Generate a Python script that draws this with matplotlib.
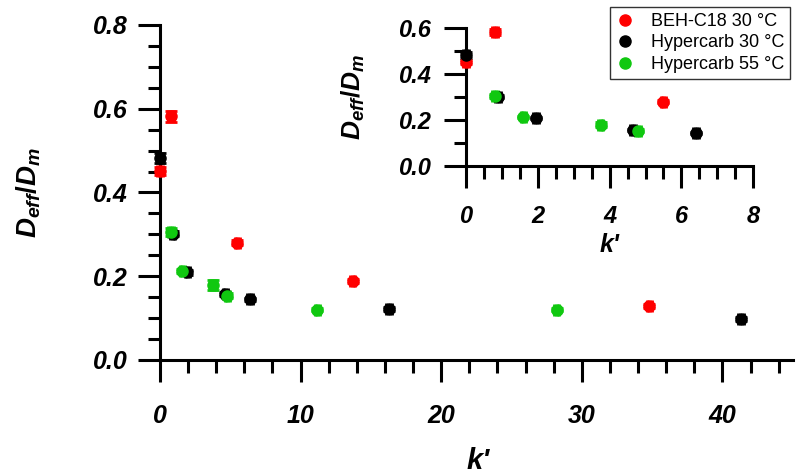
import matplotlib
matplotlib.use("Agg")
import matplotlib.pyplot as plt
from matplotlib.lines import Line2D
from matplotlib.ticker import MultipleLocator

plt.rcParams['font.family'] = ['Liberation Sans', 'DejaVu Sans']
plt.rcParams['mathtext.fontset'] = 'custom'
plt.rcParams['mathtext.it'] = 'Liberation Sans:bold:italic'
plt.rcParams['mathtext.rm'] = 'Liberation Sans:bold'
plt.rcParams['mathtext.bf'] = 'Liberation Sans:bold'

# datos
beh_k = [0.0, 0.8, 5.5, 13.7, 34.8]
beh_d = [0.452, 0.582, 0.280, 0.188, 0.129]
beh_err = [0.010, 0.013, 0.006, 0.005, 0.004]

hc30_k = [0.0, 0.9, 1.95, 4.65, 6.4, 16.3, 41.3]
hc30_d = [0.482, 0.302, 0.209, 0.158, 0.145, 0.122, 0.098]
hc30_err = [0.012, 0.006, 0.005, 0.005, 0.004, 0.004, 0.004]

hc55_k = [0.8, 1.6, 3.75, 4.8, 11.2, 28.2]
hc55_d = [0.305, 0.213, 0.179, 0.154, 0.120, 0.120]
hc55_err = [0.010, 0.005, 0.011, 0.006, 0.004, 0.004]

labels = ['BEH-C18 30 °C', 'Hypercarb 30 °C', 'Hypercarb 55 °C']
colores = ['#ff0000', '#000000', '#10c810']
series = [(beh_k, beh_d, beh_err), (hc30_k, hc30_d, hc30_err), (hc55_k, hc55_d, hc55_err)]

ylab = r'$D_{eff}/D_m$'
xlab = "k'"
fp = dict(fontweight='bold', fontstyle='italic')

fig = plt.figure(figsize=(8, 4.76), dpi=100)


def estilo(ax, fs, lw, pad_x, pad_y):
    ax.spines['top'].set_visible(False)
    ax.spines['right'].set_visible(False)
    ax.spines['left'].set_linewidth(lw)
    ax.spines['bottom'].set_linewidth(lw)
    ax.tick_params(which='major', direction='out', length=16, width=lw, labelsize=fs)
    ax.tick_params(which='minor', direction='out', length=9, width=lw)
    ax.tick_params(axis='x', which='major', pad=pad_x)
    ax.tick_params(axis='y', which='major', pad=pad_y)
    for t in ax.get_xticklabels() + ax.get_yticklabels():
        t.set_fontweight('bold')
        t.set_fontstyle('italic')


def puntos(ax, xerr_u):
    for (k, d, e), c in zip(series, colores):
        ax.errorbar(k, d, yerr=e, xerr=xerr_u, fmt='o', color=c, ms=8, mec=c,
                    elinewidth=2, capsize=4, capthick=2, clip_on=False, zorder=3)


# grafica principal
ax = fig.add_axes([0.2, 0.2437, 0.791, 0.7038])
puntos(ax, 0.2)
ax.set_xlim(0, 45)
ax.set_ylim(0, 0.8)
ax.xaxis.set_major_locator(MultipleLocator(10))
ax.xaxis.set_minor_locator(MultipleLocator(2))
ax.set_yticks([0, 0.2, 0.4, 0.6, 0.8])
ax.set_yticklabels(['0.0', '0.2', '0.4', '0.6', '0.8'])
ax.yaxis.set_minor_locator(MultipleLocator(0.05))
estilo(ax, 18, 2.2, 16, 7)
ax.set_xlabel(xlab, fontsize=21, va='center', **fp)
ax.set_ylabel(ylab, fontsize=20, va='center')
ax.xaxis.set_label_coords(0.502, -0.30)
ax.yaxis.set_label_coords(-0.208, 0.5)

# grafica insertada
ax2 = fig.add_axes([0.5825, 0.651, 0.359, 0.29])
puntos(ax2, 0.08)
ax2.set_xlim(0, 8)
ax2.set_ylim(0, 0.6)
ax2.xaxis.set_major_locator(MultipleLocator(2))
ax2.xaxis.set_minor_locator(MultipleLocator(0.5))
ax2.set_yticks([0, 0.2, 0.4, 0.6])
ax2.set_yticklabels(['0.0', '0.2', '0.4', '0.6'])
ax2.yaxis.set_minor_locator(MultipleLocator(0.1))
estilo(ax2, 17, 2.2, 12, 9)
ax2.set_xlabel(xlab, fontsize=18, va='center', **fp)
ax2.set_ylabel(ylab, fontsize=19, va='center')
ax2.xaxis.set_label_coords(0.50, -0.57)
ax2.yaxis.set_label_coords(-0.392, 0.5)

# leyenda
handles = [Line2D([], [], ls='none', marker='o', ms=8, color=c) for c in colores]
leg = fig.legend(handles, labels, loc='upper right', bbox_to_anchor=(0.988, 0.986),
                 fontsize=13, frameon=True, fancybox=False, edgecolor='black',
                 handlelength=1.0, handletextpad=0.9, labelspacing=0.25,
                 borderpad=0.35, borderaxespad=0.0)
leg.get_frame().set_linewidth(1.0)

fig.savefig('out.png', dpi=100)
